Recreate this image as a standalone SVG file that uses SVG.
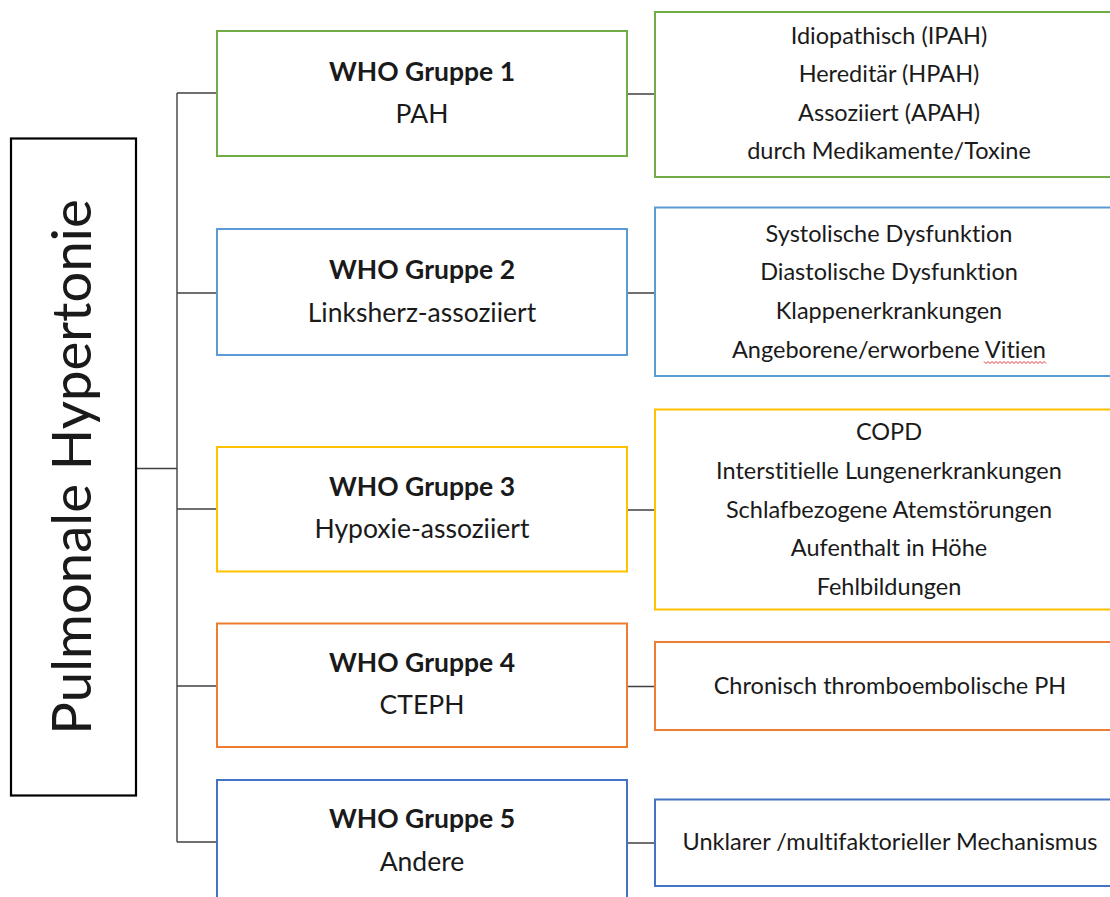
<svg xmlns="http://www.w3.org/2000/svg" width="1110" height="897" viewBox="0 0 1110 897">
<style>
  .t { font-family: Lato, "Open Sans", "Liberation Sans", sans-serif; fill: #1a1a1a; text-anchor: middle; font-variant-ligatures: none; font-feature-settings: "liga" 0, "dlig" 0; }
  .r { font-size: 23.5px; }
  .m { font-size: 26.5px; }
  .b { font-size: 26.5px; font-weight: bold; }
  .big { font-size: 54.5px; }
  .box { fill: #ffffff; stroke-width: 2; }
  .conn { stroke: #404040; stroke-width: 1.4; fill: none; }
</style>
<rect width="1110" height="897" fill="#ffffff"/>
<g id="connectors">
  <path class="conn" d="M136 468.5 H177 M177 93 V842 M177 93 H217 M177 293 H217 M177 509 H217 M177 686 H217 M177 842 H217"/>
  <path class="conn" d="M627 94 H655 M627 293 H655 M627 510 H655 M627 686.5 H655 M627 843 H655"/>
</g>
<g id="root">
  <rect x="11" y="138.5" width="125" height="657" fill="#ffffff" stroke="#000000" stroke-width="2.2"/>
  <text class="t big" transform="translate(91 467) rotate(-90)">Pulmonale Hypertonie</text>
</g>
<g id="g1">
  <rect class="box" x="217" y="31" width="410" height="125" stroke="#70AD47"/>
  <text class="t b" x="422" y="81">WHO Gruppe 1</text>
  <text class="t m" x="422" y="123">PAH</text>
</g>
<g id="g2">
  <rect class="box" x="217" y="229" width="410" height="126" stroke="#5B9BD5"/>
  <text class="t b" x="422" y="279">WHO Gruppe 2</text>
  <text class="t m" x="422" y="322">Linksherz-assoziiert</text>
</g>
<g id="g3">
  <rect class="box" x="217" y="447" width="410" height="124.5" stroke="#FFC000"/>
  <text class="t b" x="422" y="496">WHO Gruppe 3</text>
  <text class="t m" x="422" y="538">Hypoxie-assoziiert</text>
</g>
<g id="g4">
  <rect class="box" x="217" y="623.5" width="410" height="123.5" stroke="#ED7D31"/>
  <text class="t b" x="422" y="672">WHO Gruppe 4</text>
  <text class="t m" x="422" y="714">CTEPH</text>
</g>
<g id="g5">
  <rect class="box" x="217" y="780" width="410" height="125" stroke="#4472C4"/>
  <text class="t b" x="422" y="828">WHO Gruppe 5</text>
  <text class="t m" x="422" y="871">Andere</text>
</g>
<g id="r1">
  <rect class="box" x="655" y="12" width="470" height="165" stroke="#70AD47"/>
  <text class="t r" x="889" y="43.5">Idiopathisch (IPAH)</text>
  <text class="t r" x="889" y="82">Hereditär (HPAH)</text>
  <text class="t r" x="889" y="120.5">Assoziiert (APAH)</text>
  <text class="t r" x="889" y="158.5">durch Medikamente/Toxine</text>
</g>
<g id="r2">
  <rect class="box" x="655" y="207.5" width="470" height="168.5" stroke="#5B9BD5"/>
  <text class="t r" x="889" y="241.5">Systolische Dysfunktion</text>
  <text class="t r" x="889" y="280">Diastolische Dysfunktion</text>
  <text class="t r" x="889" y="318.5">Klappenerkrankungen</text>
  <text class="t r" x="889" y="357.5">Angeborene/erworbene Vitien</text>
  <path d="M984 361.5 l2 2 l2 -2 l2 2 l2 -2 l2 2 l2 -2 l2 2 l2 -2 l2 2 l2 -2 l2 2 l2 -2 l2 2 l2 -2 l2 2 l2 -2 l2 2 l2 -2 l2 2 l2 -2 l2 2 l2 -2 l2 2 l2 -2 l2 2 l2 -2 l2 2 l2 -2 l2 2 l2 -2 l2 2" fill="none" stroke="#e02020" stroke-width="0.9"/>
</g>
<g id="r3">
  <rect class="box" x="655" y="409.5" width="470" height="200" stroke="#FFC000"/>
  <text class="t r" x="889" y="440">COPD</text>
  <text class="t r" x="889" y="479">Interstitielle Lungenerkrankungen</text>
  <text class="t r" x="889" y="517.5">Schlafbezogene Atemstörungen</text>
  <text class="t r" x="889" y="556">Aufenthalt in Höhe</text>
  <text class="t r" x="889" y="594.5">Fehlbildungen</text>
</g>
<g id="r4">
  <rect class="box" x="655" y="642" width="470" height="88" stroke="#ED7D31"/>
  <text class="t r" x="890" y="693.5">Chronisch thromboembolische PH</text>
</g>
<g id="r5">
  <rect class="box" x="655" y="799.5" width="470" height="86.5" stroke="#4472C4"/>
  <text class="t r" x="890" y="850">Unklarer /multifaktorieller Mechanismus</text>
</g>
</svg>
